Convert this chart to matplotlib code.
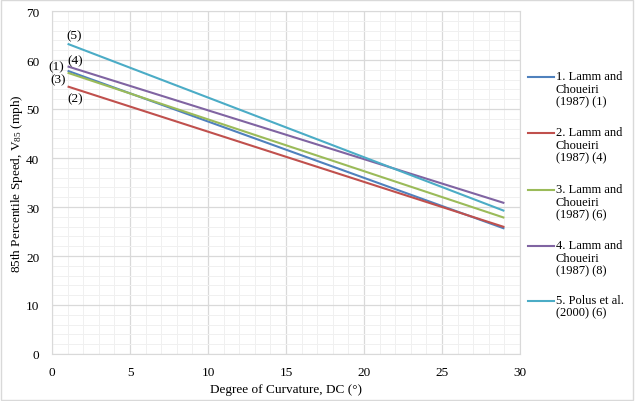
import matplotlib
matplotlib.use("Agg")
import matplotlib.pyplot as plt
from matplotlib.ticker import MultipleLocator
from matplotlib.lines import Line2D

plt.rcParams['font.family'] = ['Liberation Serif', 'DejaVu Serif']
plt.rcParams['mathtext.fontset'] = 'custom'
plt.rcParams['mathtext.rm'] = 'Liberation Serif'
plt.rcParams['mathtext.it'] = 'Liberation Serif:italic'

# Data (degree of curvature vs 85th percentile speed, mph)
dc = [1, 29]
s1 = [57.8, 25.6]   # Lamm and Choueiri (1987) (1)
s2 = [54.6, 25.9]   # Lamm and Choueiri (1987) (4)
s3 = [57.4, 27.8]   # Lamm and Choueiri (1987) (6)
s4 = [58.7, 30.8]   # Lamm and Choueiri (1987) (8)
s5 = [63.3, 29.2]   # Polus et al. (2000) (6)
series = [s1, s2, s3, s4, s5]
labels = ["1. Lamm and\nChoueiri\n(1987) (1)",
          "2. Lamm and\nChoueiri\n(1987) (4)",
          "3. Lamm and\nChoueiri\n(1987) (6)",
          "4. Lamm and\nChoueiri\n(1987) (8)",
          "5. Polus et al.\n(2000) (6)"]
colors = ['#4F81BD', '#C0504D', '#9BBB59', '#8064A2', '#4BACC6']
annots = ["(1)", "(2)", "(3)", "(4)", "(5)"]
annot_pos = [(0.3, 58.7), (1.5, 52.2), (0.4, 56.1), (1.5, 60.0), (1.4, 65.0)]

W, H = 635, 402
fig = plt.figure(figsize=(W / 100, H / 100), dpi=100)
ax = fig.add_axes([52 / W, 1 - 355 / H, (520 - 52) / W, (355 - 12) / H])

for s, c, lab in zip(series, colors, labels):
    ax.plot(dc, s, color=c, lw=1.5, label=lab, solid_capstyle='butt')

for t, (x, y) in zip(annots, annot_pos):
    ax.text(x, y, t, fontsize=9.5, ha='center', va='center')

ax.set_xlim(0, 30)
ax.set_ylim(0, 70)
ax.xaxis.set_major_locator(MultipleLocator(5))
ax.yaxis.set_major_locator(MultipleLocator(10))
ax.xaxis.set_minor_locator(MultipleLocator(1))
ax.yaxis.set_minor_locator(MultipleLocator(2))
ax.grid(which='major', color='#d9d9d9', lw=0.9)
ax.grid(which='minor', color='#f0f0f0', lw=0.7)
ax.set_axisbelow(True)
for sp in ax.spines.values():
    sp.set_color('#d9d9d9')
ax.tick_params(which='both', length=0, labelsize=9.5)
ax.tick_params(axis='y', pad=9)
ax.tick_params(axis='x', pad=9)
ax.set_xlabel("Degree of Curvature, DC (°)", fontsize=9.5, labelpad=3)
ax.set_ylabel("85th Percentile Speed, V$_{85}$ (mph)", fontsize=9.5, labelpad=1)

# Legend (Excel-style: handle aligned with first text line)
first_line_px = [78, 134, 191, 247, 302]
for ypx, c, lab in zip(first_line_px, colors, labels):
    yf = 1 - ypx / H
    fig.add_artist(Line2D([528 / W, 554 / W], [yf, yf], color=c, lw=1.5,
                          transform=fig.transFigure))
    fig.text(556 / W, 1 - (ypx - 7) / H, lab, fontsize=9, ha='left', va='top',
             linespacing=1.08)

# Outer chart border
fig.patches.append(plt.Rectangle((0.002, 0.003), 0.995, 0.994, transform=fig.transFigure,
                                 fill=False, edgecolor='#d9d9d9', lw=1))

fig.savefig("out.png", dpi=100)
